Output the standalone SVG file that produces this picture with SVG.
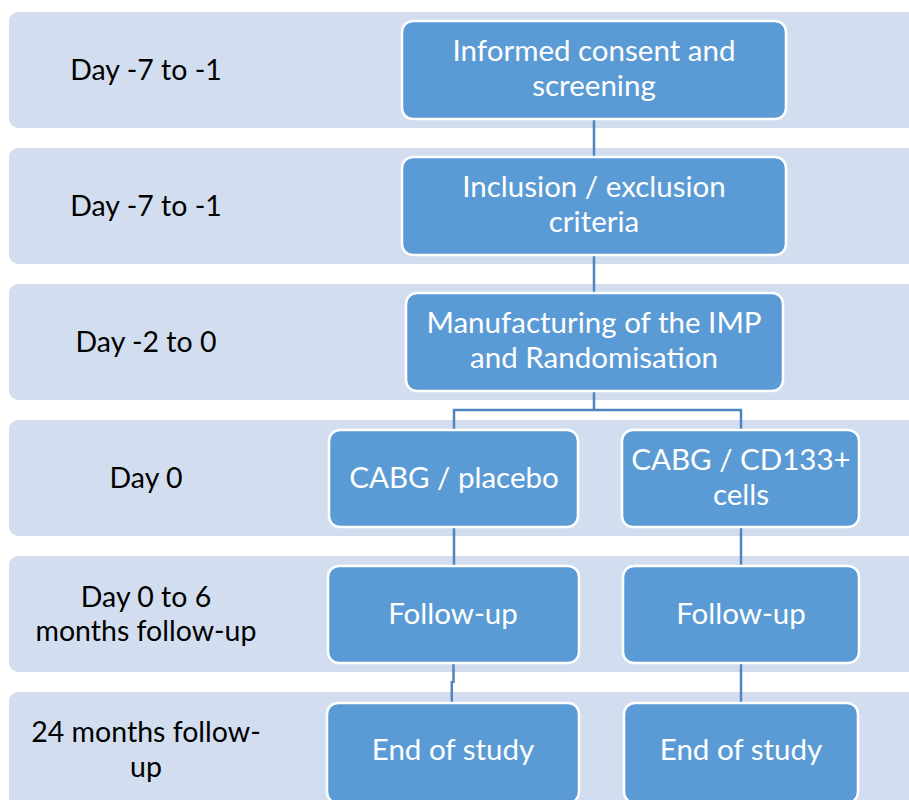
<svg xmlns="http://www.w3.org/2000/svg" width="909" height="800" viewBox="0 0 909 800">
  <style>
    .band { fill: #D2DEEF; }
    .box { fill: #5B9BD5; stroke: #FFFFFF; stroke-width: 2.5; }
    .link { fill: none; stroke: #4F85BF; stroke-width: 2.5; }
    .day { font-family: Lato, "Open Sans", "Liberation Sans", sans-serif; font-size: 28.5px; fill: #000000; text-anchor: middle; }
    .txt { font-family: Lato, "Open Sans", "Liberation Sans", sans-serif; font-size: 29.5px; fill: #FFFFFF; text-anchor: middle; }
  </style>

  <rect width="909" height="800" fill="#FFFFFF"/>

  <!-- timeline rows -->
  <g id="rows">
    <rect class="band" x="9" y="12" width="940" height="116" rx="9"/>
    <rect class="band" x="9" y="148" width="940" height="116" rx="9"/>
    <rect class="band" x="9" y="284" width="940" height="116" rx="9"/>
    <rect class="band" x="9" y="420" width="940" height="116" rx="9"/>
    <rect class="band" x="9" y="556" width="940" height="116" rx="9"/>
    <rect class="band" x="9" y="692" width="940" height="140" rx="9"/>
  </g>

  <!-- row labels -->
  <g id="labels">
    <text class="day" x="146" y="80">Day -7 to -1</text>
    <text class="day" x="146" y="216">Day -7 to -1</text>
    <text class="day" x="146" y="352">Day -2 to 0</text>
    <text class="day" x="146" y="488">Day 0</text>
    <text class="day" x="146" y="607">Day 0 to 6</text>
    <text class="day" x="146" y="641">months follow-up</text>
    <text class="day" x="146" y="742">24 months follow-</text>
    <text class="day" x="146" y="777">up</text>
  </g>

  <!-- connectors -->
  <g id="connectors">
    <line class="link" x1="594" y1="119" x2="594" y2="157"/>
    <line class="link" x1="594" y1="255" x2="594" y2="293"/>
    <path class="link" d="M594 391 V410 M454 430 V410 H741 V430"/>
    <line class="link" x1="454" y1="527" x2="454" y2="566"/>
    <line class="link" x1="741" y1="527" x2="741" y2="566"/>
    <path class="link" d="M453.5 663 V683 M451.8 681 V702"/>
    <line class="link" x1="741" y1="663" x2="741" y2="702"/>
  </g>

  <g id="consent">
    <rect class="box" x="402" y="21" width="384" height="98" rx="11"/>
    <text class="txt" x="594" y="61">Informed consent and</text>
    <text class="txt" x="594" y="96">screening</text>
  </g>

  <g id="criteria">
    <rect class="box" x="402" y="157" width="384" height="98" rx="11"/>
    <text class="txt" x="594" y="197">Inclusion / exclusion</text>
    <text class="txt" x="594" y="232">criteria</text>
  </g>

  <g id="manufacturing">
    <rect class="box" x="406" y="293" width="377" height="98" rx="11"/>
    <text class="txt" x="594" y="333">Manufacturing of the IMP</text>
    <text class="txt" x="594" y="368">and Randomisation</text>
  </g>

  <g id="cabg-placebo">
    <rect class="box" x="329" y="430" width="249" height="97" rx="11"/>
    <text class="txt" x="454" y="488">CABG / placebo</text>
  </g>

  <g id="cabg-cd133">
    <rect class="box" x="622" y="430" width="237" height="97" rx="11"/>
    <text class="txt" x="741" y="470">CABG / CD133+</text>
    <text class="txt" x="741" y="505">cells</text>
  </g>

  <g id="followup-placebo">
    <rect class="box" x="328" y="566" width="251" height="97" rx="11"/>
    <text class="txt" x="453" y="624">Follow-up</text>
  </g>

  <g id="followup-cd133">
    <rect class="box" x="623" y="566" width="236" height="97" rx="11"/>
    <text class="txt" x="741" y="624">Follow-up</text>
  </g>

  <g id="end-placebo">
    <rect class="box" x="327" y="703" width="252" height="100" rx="11"/>
    <text class="txt" x="453" y="760">End of study</text>
  </g>

  <g id="end-cd133">
    <rect class="box" x="624" y="703" width="234" height="100" rx="11"/>
    <text class="txt" x="741" y="760">End of study</text>
  </g>
</svg>
